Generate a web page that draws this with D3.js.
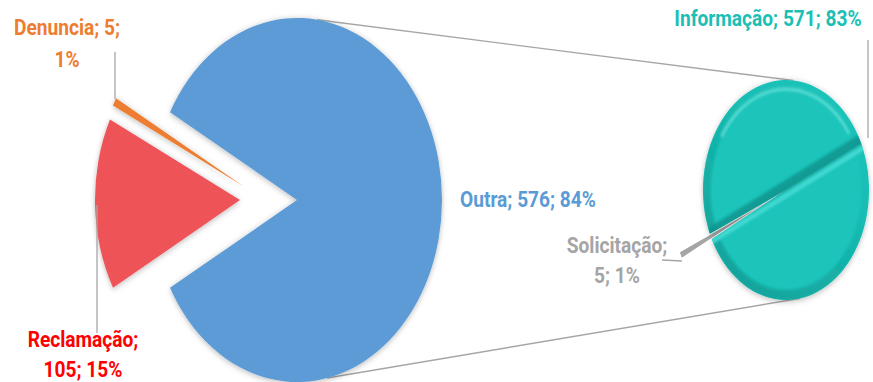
<!DOCTYPE html>
<html>
<head>
<meta charset="utf-8">
<script src="https://cdn.jsdelivr.net/npm/d3@7"></script>
<style>
  body { margin: 0; background: #fff; }
  svg { display: block; }
</style>
</head>
<body>
<svg id="chart" width="873" height="382"></svg>
<script>
// Main pie: all requests by type
const mainCategories = ["Outra", "Reclamação", "Denuncia"];
const mainValues = [576, 105, 5];
// Secondary pie: breakdown of "Outra"
const subCategories = ["Informação", "Solicitação"];
const subValues = [571, 5];

const mainColors = ["#5B9BD5", "#EE5359", "#ED7D31"];
const mainLabelColors = ["#5B9BD5", "#FF0000", "#ED7D31"];
const subColors = ["#1BC4BA", "#A5A5A5"];
const subLabelColors = ["#1CBFB6", "#A5A5A5"];

const FONT = "Roboto, 'Liberation Sans', sans-serif";
const deg = Math.PI / 180;
const grandTotal = d3.sum(mainValues);
const pct = v => Math.round(v / grandTotal * 100) + "%";

const svg = d3.select("#chart");
const defs = svg.append("defs");

const shadow = defs.append("filter").attr("id", "shadow")
  .attr("x", "-20%").attr("y", "-20%").attr("width", "140%").attr("height", "140%");
shadow.append("feDropShadow").attr("dx", 0).attr("dy", 1).attr("stdDeviation", 2.5)
  .attr("flood-color", "#000").attr("flood-opacity", 0.28);

const soft = defs.append("filter").attr("id", "soft")
  .attr("x", "-10%").attr("y", "-10%").attr("width", "120%").attr("height", "120%");
soft.append("feGaussianBlur").attr("stdDeviation", 1.1);

// Ellipse geometry of both pies
const main = { cx: 297, cy: 200, rx: 145, ry: 182 };
const sub = { cx: 786, cy: 190, rx: 83, ry: 110 };
const onEllipse = (e, a) => [e.cx + e.rx * Math.sin(a), e.cy - e.ry * Math.cos(a)];

// Connector lines between the "Outra" slice and the breakdown pie
const connectors = [[8, 5], [168, 170]];
connectors.forEach(([am, as]) => {
  const p1 = onEllipse(main, am * deg), p2 = onEllipse(sub, as * deg);
  svg.append("line")
    .attr("x1", p1[0]).attr("y1", p1[1]).attr("x2", p2[0]).attr("y2", p2[1])
    .attr("stroke", "#A6A6A6").attr("stroke-width", 1.4);
});

// ---- Main pie ----
const outraSpan = mainValues[0] / grandTotal * 2 * Math.PI;
const mainStart = Math.PI / 2 - outraSpan / 2;
const mainPie = d3.pie().sort(null).startAngle(mainStart).endAngle(mainStart + 2 * Math.PI);
const mainArcs = mainPie(mainValues);
const mainArc = d3.arc().innerRadius(0).outerRadius(main.rx);
const explode = [[0, 0], [-57, 0], [-54, -14]];

mainArcs.forEach((a, i) => {
  svg.append("g")
    .attr("transform", `translate(${main.cx + explode[i][0]},${main.cy + explode[i][1]}) scale(1,${main.ry / main.rx})`)
    .append("path")
    .attr("d", mainArc(a))
    .attr("fill", mainColors[i])
    .attr("filter", "url(#shadow)");
});

// ---- Secondary pie ----
const subTotal = d3.sum(subValues);
const solDir = 245 * deg;
const solSpan = subValues[1] / subTotal * 2 * Math.PI;
const subStart = solDir + solSpan / 2 - 2 * Math.PI;
const subPie = d3.pie().sort(null).startAngle(subStart).endAngle(subStart + 2 * Math.PI);
const subArcs = subPie(subValues);
const subArc = d3.arc().innerRadius(0).outerRadius(sub.rx);

const gSub = svg.append("g")
  .attr("transform", `translate(${sub.cx},${sub.cy}) scale(1,${sub.ry / sub.rx})`);

// Solicitação slice, pulled out from the centre
const solExplode = 33;
const solMid = (subArcs[1].startAngle + subArcs[1].endAngle) / 2;
gSub.append("path")
  .attr("transform", `translate(${solExplode * Math.sin(solMid)},${-solExplode * Math.cos(solMid)})`)
  .attr("d", subArc(subArcs[1]))
  .attr("fill", subColors[1]);

// Informação slice with a bevelled look
defs.append("clipPath").attr("id", "infoClip")
  .append("path").attr("d", subArc(subArcs[0]));

gSub.append("path")
  .attr("d", subArc(subArcs[0]))
  .attr("fill", subColors[0])
  .attr("filter", "url(#shadow)");

const rimGrad = defs.append("linearGradient").attr("id", "rimGrad")
  .attr("x1", 0.85).attr("y1", 0).attr("x2", 0.2).attr("y2", 1);
[[0, 0], [0.35, 0.15], [0.65, 0.5], [1, 0.8]].forEach(([o, op]) =>
  rimGrad.append("stop").attr("offset", o).attr("stop-color", "#0E9A93").attr("stop-opacity", op));

const bevel = gSub.append("g").attr("clip-path", "url(#infoClip)")
  .append("g").attr("filter", "url(#soft)");

bevel.append("circle").attr("r", sub.rx - 3.5)
  .attr("fill", "none").attr("stroke", "url(#rimGrad)").attr("stroke-width", 8);

const highlight = d3.arc().innerRadius(sub.rx - 8).outerRadius(sub.rx - 6)
  .startAngle(-58 * deg).endAngle(56 * deg);
bevel.append("path").attr("d", highlight()).attr("fill", "#7FEDE6").attr("opacity", 0.75);

// Seam running across the slice, opposite to the Solicitação wedge
const seamDir = solMid / deg - 180;
const seam = bevel.append("g").attr("transform", `rotate(${seamDir - 90})`);
const seamLen = 2 * sub.rx + 20;
seam.append("rect").attr("x", -sub.rx - 10).attr("y", -7).attr("width", seamLen).attr("height", 7)
  .attr("fill", "#0E958F").attr("opacity", 0.85);
seam.append("rect").attr("x", -sub.rx - 10).attr("y", 0).attr("width", seamLen).attr("height", 6)
  .attr("fill", "#2ED4CB").attr("opacity", 0.85);
seam.append("rect").attr("x", -sub.rx - 10).attr("y", 3.5).attr("width", seamLen).attr("height", 1.4)
  .attr("fill", "#62E6DE").attr("opacity", 0.8);
seam.append("rect").attr("x", -sub.rx - 10).attr("y", -0.5).attr("width", seamLen).attr("height", 1)
  .attr("fill", "#0A807A");

// ---- Leader lines ----
const leaders = [
  [[115, 52], [115, 99]],
  [[97, 205], [97, 333]],
  [[868, 40], [868, 138]],
  [[662, 260], [682, 261]]
];
leaders.forEach(pts => {
  svg.append("path").attr("d", d3.line()(pts))
    .attr("fill", "none").attr("stroke", "#A6A6A6").attr("stroke-width", 1.3);
});

// ---- Data labels (bold, horizontally condensed) ----
const squeeze = 0.89;
function label(lines, x, ys, color) {
  const t = svg.append("g")
    .attr("transform", `translate(${x},0) scale(${squeeze},1)`)
    .append("text")
    .attr("text-anchor", "middle")
    .attr("font-family", FONT).attr("font-weight", "bold").attr("font-size", 21.5)
    .attr("fill", color);
  lines.forEach((s, i) => t.append("tspan").attr("x", 0).attr("y", ys[i]).text(s));
}

label([`${mainCategories[2]}; ${mainValues[2]};`, pct(mainValues[2])], 67, [35, 67], mainLabelColors[2]);
label([`${mainCategories[1]};`, `${mainValues[1]}; ${pct(mainValues[1])}`], 83, [347, 377], mainLabelColors[1]);
label([`${mainCategories[0]}; ${mainValues[0]}; ${pct(mainValues[0])}`], 528, [207], mainLabelColors[0]);
label([`${subCategories[0]}; ${subValues[0]}; ${pct(subValues[0])}`], 768, [26], subLabelColors[0]);
label([`${subCategories[1]};`, `${subValues[1]}; ${pct(subValues[1])}`], 617, [253, 283], subLabelColors[1]);
</script>
</body>
</html>
